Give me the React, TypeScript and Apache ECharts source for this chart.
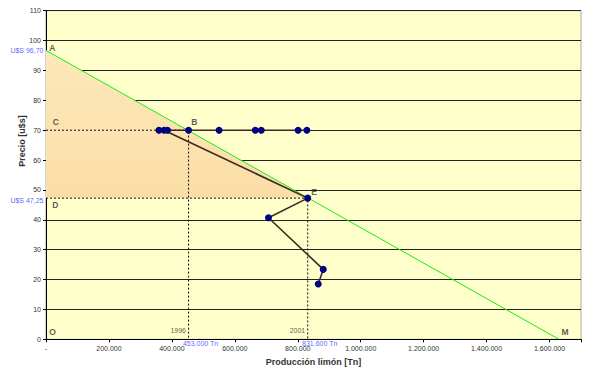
import React, { useEffect, useRef } from "react";
import * as echarts from "echarts";

// ---- data ----
const demandLine: [number, number][] = [
  [0, 96.7],
  [1630000, 0],
];
const surplusArea: [number, number][] = [
  [0, 96.7],
  [0, 47.25],
  [831600, 47.25],
];
// trajectory of (production, price)
const trajectory: [number, number][] = [
  [829000, 70],
  [801000, 70],
  [684000, 70],
  [665000, 70],
  [550000, 70],
  [453000, 70],
  [386000, 70],
  [359000, 70],
  [375000, 70],
  [831600, 47.25],
  [707000, 40.7],
  [881000, 23.4],
  [865000, 18.5],
];
const guide1996: [number, number][] = [
  [0, 70],
  [453000, 70],
  [453000, 0],
];
const guide2001: [number, number][] = [
  [0, 47.25],
  [831600, 47.25],
  [831600, 0],
];
const letterLabels = [
  { text: "A", x: 20000, y: 97.6 },
  { text: "C", x: 31000, y: 72.6 },
  { text: "B", x: 471000, y: 72.7 },
  { text: "D", x: 29500, y: 45.0 },
  { text: "E", x: 852000, y: 49.4 },
  { text: "O", x: 21000, y: 2.4 },
  { text: "M", x: 1649000, y: 2.4 },
];
const yearLabels = [
  { text: "1996", x: 420000, y: 2.9 },
  { text: "2001", x: 799000, y: 2.9 },
];
const priceLabels = [
  { text: "U$S 96,70", x: 0, y: 96.7 },
  { text: "U$S 47,25", x: 0, y: 47.25 },
];
const qtyLabels = [
  { text: "453.000 Tn", x: 453000, y: 0 },
  { text: "831.600 Tn", x: 831600, y: 0 },
];

const FONT = "Liberation Sans, Arial, sans-serif";

function fmt(v: number): string {
  if (v === 0) return "-";
  if (v > 1600000) return "";
  return String(Math.round(v)).replace(/\B(?=(\d{3})+(?!\d))/g, ".");
}

export default function App() {
  const ref = useRef<HTMLDivElement>(null);
  useEffect(() => {
    if (!ref.current) return;
    const chart = echarts.init(ref.current, undefined, { renderer: "svg" });
    const option: any = {
      animation: false,
      textStyle: { fontFamily: FONT },
      grid: {
        left: 46,
        top: 10.7,
        right: 15,
        bottom: 36.7,
        containLabel: false,
        show: true,
        backgroundColor: "#FFFFCC",
        borderColor: "#aaaaaa",
        borderWidth: 1,
      },
      xAxis: {
        type: "value",
        min: 0,
        max: 1700000,
        interval: 200000,
        name: "Producción limón [Tn]",
        nameLocation: "middle",
        nameGap: 18,
        nameTextStyle: { fontFamily: FONT, fontSize: 9, fontWeight: "bold", color: "#333" },
        axisLine: { show: true, onZero: false, lineStyle: { color: "#000", width: 1 } },
        axisTick: { show: true, length: 3, lineStyle: { color: "#000" } },
        axisLabel: { fontFamily: FONT, fontSize: 7, color: "#333", margin: 6, formatter: fmt },
        splitLine: { show: false },
      },
      yAxis: {
        type: "value",
        min: 0,
        max: 110,
        interval: 10,
        axisLine: { show: true, lineStyle: { color: "#000", width: 1 } },
        axisTick: { show: true, length: 3, lineStyle: { color: "#000" } },
        axisLabel: { fontFamily: FONT, fontSize: 7, color: "#333", margin: 5 },
        splitLine: { show: true, lineStyle: { color: "#222", width: 1 } },
      },
      graphic: [
        {
          type: "text",
          x: 22,
          y: 141,
          rotation: Math.PI / 2,
          style: {
            text: "Precio [u$s]",
            font: "bold 9px " + FONT,
            fill: "#333",
            align: "center",
            verticalAlign: "middle",
          },
        },
      ],
      series: [
        {
          type: "custom",
          silent: true,
          z: 1,
          data: [surplusArea[0]],
          renderItem: (_p: any, api: any) => ({
            type: "polygon",
            shape: { points: surplusArea.map((pt) => api.coord(pt)) },
            style: {
              fill: new echarts.graphic.LinearGradient(0, 0, 0, 1, [
                { offset: 0, color: "#FCE8BA" },
                { offset: 1, color: "#FBDEA6" },
              ]),
            },
          }),
        },
        {
          type: "line",
          data: guide1996,
          symbol: "none",
          z: 3,
          lineStyle: { color: "#111", width: 1, type: [2, 2] },
        },
        {
          type: "line",
          data: guide2001,
          symbol: "none",
          z: 3,
          lineStyle: { color: "#111", width: 1, type: [2, 2] },
        },
        {
          type: "line",
          data: demandLine,
          symbol: "none",
          z: 4,
          lineStyle: { color: "#11EE11", width: 1 },
        },
        {
          type: "line",
          data: trajectory,
          symbol: "circle",
          symbolSize: 7,
          z: 5,
          lineStyle: { color: "#3B2A20", width: 1.6 },
          itemStyle: { color: "#000080", borderWidth: 0 },
        },
        {
          type: "scatter",
          z: 6,
          symbolSize: 1,
          itemStyle: { color: "rgba(0,0,0,0)" },
          silent: true,
          data: letterLabels.map((l) => ({ value: [l.x, l.y], name: l.text })),
          label: {
            show: true,
            position: "inside",
            formatter: "{b}",
            fontFamily: FONT,
            fontSize: 8.5,
            fontWeight: "bold",
            color: "#333",
          },
        },
        {
          type: "scatter",
          z: 6,
          symbolSize: 1,
          itemStyle: { color: "rgba(0,0,0,0)" },
          silent: true,
          data: yearLabels.map((l) => ({ value: [l.x, l.y], name: l.text })),
          label: {
            show: true,
            position: "inside",
            formatter: "{b}",
            fontFamily: FONT,
            fontSize: 7,
            color: "#333",
          },
        },
        {
          type: "scatter",
          z: 6,
          symbolSize: 1,
          clip: false,
          itemStyle: { color: "rgba(0,0,0,0)" },
          silent: true,
          data: priceLabels.map((l, i) => ({
            value: [l.x, l.y],
            name: l.text,
            label: { offset: [0, i === 1 ? 2 : 0] },
          })),
          label: {
            show: true,
            position: "left",
            distance: 2,
            formatter: "{b}",
            fontFamily: FONT,
            fontSize: 7,
            color: "#3333FF",
          },
        },
        {
          type: "scatter",
          z: 6,
          symbolSize: 1,
          clip: false,
          itemStyle: { color: "rgba(0,0,0,0)" },
          silent: true,
          data: qtyLabels.map((l) => ({ value: [l.x, l.y], name: l.text })),
          label: {
            show: true,
            position: "bottom",
            distance: 0,
            offset: [12, 0],
            formatter: "{b}",
            fontFamily: FONT,
            fontSize: 7,
            color: "#3333FF",
          },
        },
      ],
    };
    chart.setOption(option);
    return () => chart.dispose();
  }, []);
  return (
    <div style={{ position: "absolute", left: 0, top: 0, width: 596, height: 376, background: "#fff" }}>
      <div ref={ref} style={{ width: 596, height: 376 }} />
    </div>
  );
}
